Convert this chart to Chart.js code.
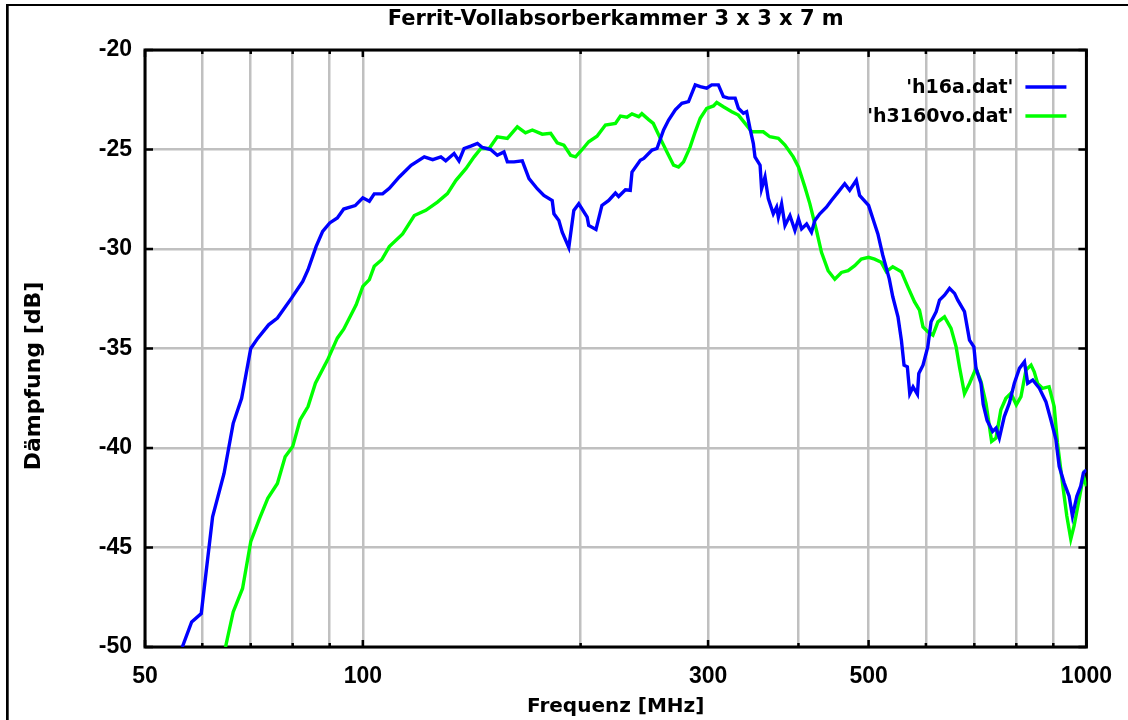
<!DOCTYPE html>
<html>
<head>
<meta charset="utf-8">
<title>Ferrit-Vollabsorberkammer</title>
<script src="https://cdn.jsdelivr.net/npm/chart.js@4/dist/chart.umd.min.js"></script>
<style>
  html, body { margin: 0; padding: 0; background: #fff; }
  #wrap { position: relative; width: 1128px; height: 720px; }
</style>
</head>
<body>
<div id="wrap"><canvas id="chart" width="1128" height="720"></canvas></div>
<script>
// frequency axis: grid at every tick, labels only on some
var xTicks = [50, 60, 70, 80, 90, 100, 200, 300, 400, 500, 600, 700, 800, 900, 1000];
var xLabels = [50, 100, 300, 500, 1000];

// 'h16a.dat'
var blueFreq = [56.3, 58, 59.8, 62, 64.3, 66.2, 68, 70, 71.6, 74.1, 76.2, 79.7, 82.6, 84, 86.2, 88, 90, 92.2, 94.1, 97.6, 100, 102.1, 103.7, 106.5, 108.8,
    112.3, 116.6, 121.6, 124.9, 128.2, 130.2, 133.7, 135.8, 138, 141, 144, 146.3, 150.2, 153.4, 156.7, 158.4, 161.8, 166.1, 169.7, 174.2, 177.9, 182.7, 183.7, 186.6, 188.6, 192.6, 195.7, 198.8, 204.2, 205.2, 210, 214, 218.7, 223.4, 225.7, 230.6, 234.2, 235.5, 241.8,
    244.5, 251, 255, 260.4, 264.6, 270.3, 276, 281.9, 288, 292.6, 298.7, 303.5, 310, 315, 320, 327, 330.4, 335.7, 339.2, 342.8, 346.5, 348.3, 354, 355.7, 359.6, 363.4, 369.2, 373.1, 375.2, 379.1,
    383.2, 389.3, 395.5, 400, 404, 410.5, 416.9, 421.4, 428.1, 437.2, 444.2, 453.8, 463.4, 470.8, 480.8, 485.9, 500, 509.7, 515, 523, 534, 540, 549, 555, 559.7, 565.6, 570, 576, 584, 586.6,
    594.5, 603.6, 610, 620, 626.6, 636.6, 646.9, 657.3, 664.1, 678.4, 689.3, 699, 703.7, 715, 720, 729, 742, 750, 758, 770, 782.5, 795, 808, 821, 829.6, 843, 861, 879, 893, 907.5,
    917, 931.5, 946.5, 956.5, 970, 982, 990.5, 1000];
var blueDb = [-50, -48.74, -48.32, -43.46, -41.28, -38.76, -37.5, -35, -34.48, -33.81, -33.47, -32.47, -31.63, -31.04, -29.87, -29.11, -28.69, -28.44, -27.99, -27.82, -27.43, -27.6, -27.23, -27.23, -26.95,
    -26.38, -25.79, -25.37, -25.51, -25.37, -25.57, -25.2, -25.57, -24.95, -24.83, -24.7, -24.9, -25, -25.29, -25.12, -25.62, -25.62, -25.57, -26.46, -26.97, -27.31, -27.56, -28.23, -28.57, -29.16, -29.92, -28.06, -27.73, -28.4, -28.82, -29.02, -27.81, -27.56, -27.19, -27.36, -27.02, -27.05, -26.13, -25.54,
    -25.45, -25.03, -24.95, -24.02, -23.52, -23.01, -22.68, -22.59, -21.75, -21.84, -21.92, -21.75, -21.75, -22.34, -22.42, -22.42, -22.93, -23.18, -23.1, -23.94, -24.7, -25.37, -25.79, -26.97, -26.38, -27.47, -28.23, -27.9, -28.4, -27.73,
    -28.82, -28.32, -29.07, -28.48, -28.99, -28.74, -29.16, -28.57, -28.23, -27.9, -27.56, -27.14, -26.72, -27.05, -26.55, -27.31, -27.81, -28.74, -29.24, -30.3, -31.5, -32.4, -33.41, -34.58, -35.84, -35.92, -37.27, -36.93, -37.3, -36.26,
    -35.84, -34.92, -33.66, -33.15, -32.57, -32.32, -31.98, -32.23, -32.57, -33.15, -34.58, -34.92, -36, -36.76, -37.8, -38.61, -39.17, -39, -39.5, -38.42, -37.75, -36.75, -36, -35.67, -36.75, -36.58, -37, -37.67, -38.58, -39.58,
    -40.92, -41.75, -42.42, -43.42, -42.42, -41.92, -41.25, -41.1];

// 'h3160vo.dat'
var greenFreq = [64.6, 66.2, 68.2, 70, 72, 73.9, 76.2, 78.1, 80, 81.9, 84, 86, 89.4, 92.2, 94.1, 97.9, 100, 102.1, 103.7, 106.2, 108.8,
    113.5, 117.8, 122.2, 126.8, 130.9, 134.5, 138.8, 142.5, 145.6, 149.5, 153.4, 158.4, 163.5, 167.8, 171.5, 177, 181.8, 185.6, 189.6, 193.7, 196.8, 201, 205.2, 210.7, 216.4, 223.4, 227, 231.8, 235.5, 240.6, 243, 248.3, 252,
    257.7, 263.2, 268.8, 273.1, 277.5, 283.4, 288, 292.6, 298.7, 305.2, 308.4, 315, 323.5, 330.4, 337.5, 344.7, 357.6, 365.2, 375.2, 383.2,
    393.4, 400, 408.3, 414.8, 423.6, 430.4, 439.6, 449, 458.6, 468.4, 478.4, 488.5, 500, 509.7, 520.6, 529, 540, 555, 566.5, 578.5,
    587.9, 594.5, 603.6, 613.5, 623.4, 636.6, 650, 660.6, 667.6, 678.4, 689.3, 703.7, 715, 726.5, 739.6, 750, 761.7, 774, 786.5, 800,
    812, 825, 838.5, 847, 856, 869.5, 888, 902.5, 912, 926.5, 939.5, 951.5, 961.5, 977, 990.5, 1000];
var greenDb = [-50, -48.24, -47.06, -44.71, -43.54, -42.53, -41.78, -40.44, -39.93, -38.59, -37.92, -36.74, -35.57, -34.48, -34.03, -32.8, -31.88, -31.54, -30.87, -30.54, -29.88,
    -29.24, -28.32, -28.06, -27.64, -27.22, -26.55, -25.96, -25.37, -24.95, -24.95, -24.36, -24.44, -23.86, -24.16, -24.02, -24.23, -24.19, -24.66, -24.78, -25.29, -25.37, -25, -24.61, -24.33, -23.77, -23.69, -23.32, -23.38, -23.21, -23.35, -23.2, -23.5, -23.69,
    -24.44, -25.12, -25.79, -25.88, -25.62, -24.87, -24.11, -23.43, -22.93, -22.81, -22.64, -22.85, -23.1, -23.27, -23.69, -24.11, -24.11, -24.36, -24.44, -24.78,
    -25.37, -25.88, -26.89, -27.73, -29.07, -30.17, -31.09, -31.52, -31.18, -31.09, -30.84, -30.51, -30.42, -30.51, -30.67, -31.14, -30.89, -31.14, -31.9, -32.65,
    -33.07, -33.91, -34.16, -34.33, -33.66, -33.41, -33.99, -34.92, -35.92, -37.27, -36.76, -36, -36.66, -37.75, -39.67, -39.5, -38.08, -37.5, -37.25, -37.83,
    -37.42, -36.08, -35.83, -36.17, -36.75, -37, -36.92, -37.92, -39.75, -41.75, -43.42, -44.58, -43.92, -42.58, -41.42, -41.92];

function toPoints(freq, db) {
    return freq.map(function (f, i) { return { x: f, y: db[i] }; });
}

var tickFont = { family: 'Liberation Sans', weight: 'bold', size: 23 };
var textFont = 'DejaVu Sans';

// gnuplot look: black frame with inner tick marks, outer page frame, key and y label
var gnuplotFrame = {
    id: 'gnuplotFrame',
    beforeDatasetsDraw: function (chart) {
        var ctx = chart.ctx, a = chart.chartArea;
        var xs = chart.scales.x, ys = chart.scales.y;
        ctx.save();
        ctx.strokeStyle = '#000';
        ctx.lineWidth = 3;
        ctx.strokeRect(a.left, a.top, a.right - a.left, a.bottom - a.top);
        ctx.lineWidth = 2.5;
        ctx.beginPath();
        xTicks.forEach(function (v) {
            var px = xs.getPixelForValue(v);
            var len = xLabels.indexOf(v) >= 0 ? 7 : 4;
            ctx.moveTo(px, a.bottom); ctx.lineTo(px, a.bottom - len);
            ctx.moveTo(px, a.top); ctx.lineTo(px, a.top + len);
        });
        ys.ticks.forEach(function (t) {
            var py = ys.getPixelForValue(t.value);
            ctx.moveTo(a.left, py); ctx.lineTo(a.left + 8, py);
            ctx.moveTo(a.right, py); ctx.lineTo(a.right - 8, py);
        });
        ctx.stroke();
        ctx.restore();
    },
    afterDraw: function (chart) {
        var ctx = chart.ctx, a = chart.chartArea;
        ctx.save();
        // page frame (left and top edge)
        ctx.fillStyle = '#000';
        ctx.fillRect(6, 4, 2.7, 720);
        ctx.fillRect(6, 4, 1128, 2);

        // key, top right inside the plot
        ctx.font = 'bold 19px "' + textFont + '"';
        ctx.textAlign = 'right';
        ctx.textBaseline = 'middle';
        chart.data.datasets.forEach(function (ds, i) {
            var y = a.top + 37 + i * 29;
            ctx.fillStyle = '#000';
            ctx.fillText(ds.label, a.right - 73, y + 1);
            ctx.strokeStyle = ds.borderColor;
            ctx.lineWidth = 3.5;
            ctx.beginPath();
            ctx.moveTo(a.right - 61, y);
            ctx.lineTo(a.right - 20, y);
            ctx.stroke();
        });

        // y axis label
        ctx.translate(34, 376);
        ctx.rotate(-Math.PI / 2);
        ctx.textAlign = 'center';
        ctx.font = 'bold 22px "' + textFont + '"';
        ctx.fillStyle = '#000';
        ctx.fillText('Dämpfung [dB]', 0, 0);
        ctx.restore();
    }
};

var ctx = document.getElementById('chart');
var myChart = new Chart(ctx, {
    type: 'line',
    data: {
        datasets: [{
            label: "'h16a.dat'",
            data: toPoints(blueFreq, blueDb),
            borderColor: '#0000ff',
            borderWidth: 3.4,
            pointRadius: 0,
            tension: 0,
            fill: false
        }, {
            label: "'h3160vo.dat'",
            data: toPoints(greenFreq, greenDb),
            borderColor: '#00ff00',
            borderWidth: 3.4,
            pointRadius: 0,
            tension: 0,
            fill: false
        }]
    },
    options: {
        responsive: false,
        animation: false,
        devicePixelRatio: 1,
        layout: { padding: { left: 0, right: 39, top: 0, bottom: 0 } },
        plugins: {
            legend: { display: false },
            tooltip: { enabled: false },
            title: {
                display: true,
                text: 'Ferrit-Vollabsorberkammer 3 x 3 x 7 m',
                fullSize: false,
                color: '#000',
                font: { family: textFont, weight: 'bold', size: 21 },
                padding: { top: 7, bottom: 17.8 }
            }
        },
        scales: {
            x: {
                type: 'logarithmic',
                min: 50,
                max: 1000,
                afterBuildTicks: function (scale) {
                    scale.ticks = xTicks.map(function (v) { return { value: v }; });
                },
                afterFit: function (scale) { scale.height = 73; },
                ticks: {
                    autoSkip: false,
                    maxRotation: 0,
                    padding: 16,
                    color: '#000',
                    font: tickFont,
                    callback: function (v) { return xLabels.indexOf(v) >= 0 ? String(v) : ''; }
                },
                grid: { color: '#c0c0c0', lineWidth: 2.5, drawTicks: false },
                border: { display: false },
                title: {
                    display: true,
                    text: 'Frequenz [MHz]',
                    color: '#000',
                    font: { family: textFont, weight: 'bold', size: 20 },
                    padding: { top: 0, bottom: 1 }
                }
            },
            y: {
                min: -50,
                max: -20,
                afterFit: function (scale) { scale.width = 145; },
                ticks: { stepSize: 5, padding: 13, color: '#000', font: tickFont },
                grid: { color: '#c0c0c0', lineWidth: 2.5, drawTicks: false },
                border: { display: false }
            }
        }
    },
    plugins: [gnuplotFrame]
});
</script>
</body>
</html>
